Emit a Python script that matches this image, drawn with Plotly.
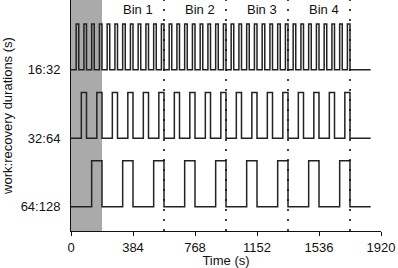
import plotly.graph_objects as go

protocols = ["64:128", "32:64", "16:32"]
work_s = [64, 32, 16]
recovery_s = [128, 64, 32]
protocol_end_s = 1728
trace_end_s = 1856
warmup_end_s = 192
bin_edges_s = [576, 960, 1344, 1728]
bin_label_x = [416, 800, 1184, 1568]
bin_labels = ["Bin 1", "Bin 2", "Bin 3", "Bin 4"]
x_ticks = [0, 384, 768, 1152, 1536, 1920]

AMP = 0.67
FONT = "Liberation Sans, Arial, sans-serif"
FS = 13

fig = go.Figure()

# gray warm-up region
fig.add_shape(type="rect", xref="x", yref="paper", x0=0, x1=warmup_end_s, y0=0, y1=1,
              fillcolor="#aaaaaa", line_width=0, layer="below")

for i, (name, w, r) in enumerate(zip(protocols, work_s, recovery_s)):
    base = i
    xs, ys = [0], [base]
    t = 0
    while t + r + w <= protocol_end_s:
        xs += [t + r, t + r, t + r + w, t + r + w]
        ys += [base, base + AMP, base + AMP, base]
        t += r + w
    xs.append(trace_end_s)
    ys.append(base)
    fig.add_trace(go.Scatter(x=xs, y=ys, mode="lines", line=dict(color="#222222", width=1.5),
                             showlegend=False, hoverinfo="skip"))

for xe in bin_edges_s:
    fig.add_shape(type="line", xref="x", yref="paper", x0=xe, x1=xe, y0=0, y1=1,
                  line=dict(color="#111111", width=1.6, dash="2px,8px"))

for xl, lab in zip(bin_label_x, bin_labels):
    fig.add_annotation(x=xl, y=2.875, xref="x", yref="y", text=lab, showarrow=False,
                       font=dict(family=FONT, size=FS, color="#111111"))

fig.update_layout(
    width=398, height=268,
    margin=dict(l=71, r=17, t=0, b=37),
    paper_bgcolor="white", plot_bgcolor="white",
    font=dict(family=FONT, size=FS, color="#111111"),
    xaxis=dict(range=[0, 1920], tickvals=x_ticks, ticktext=[str(v) for v in x_ticks],
               ticks="outside", ticklen=4, tickcolor="#111111", showline=True,
               linecolor="#111111", linewidth=1, showgrid=False, zeroline=False,
               automargin=False, tickfont=dict(size=FS),
               title=dict(text="Time (s)", standoff=2, font=dict(size=FS))),
    yaxis=dict(range=[-0.355, 3.02], tickvals=[0, 1, 2], ticktext=protocols,
               ticks="", showline=True, linecolor="#111111", linewidth=1,
               showgrid=False, zeroline=False, automargin=False, tickfont=dict(size=FS),
               ticklabelstandoff=7,
               title=dict(text="work:recovery durations (s)", standoff=13, font=dict(size=FS))),
)

fig.write_html("out.html", config={"displayModeBar": False},
               post_script="document.body.style.margin='0';document.body.style.padding='0';")
